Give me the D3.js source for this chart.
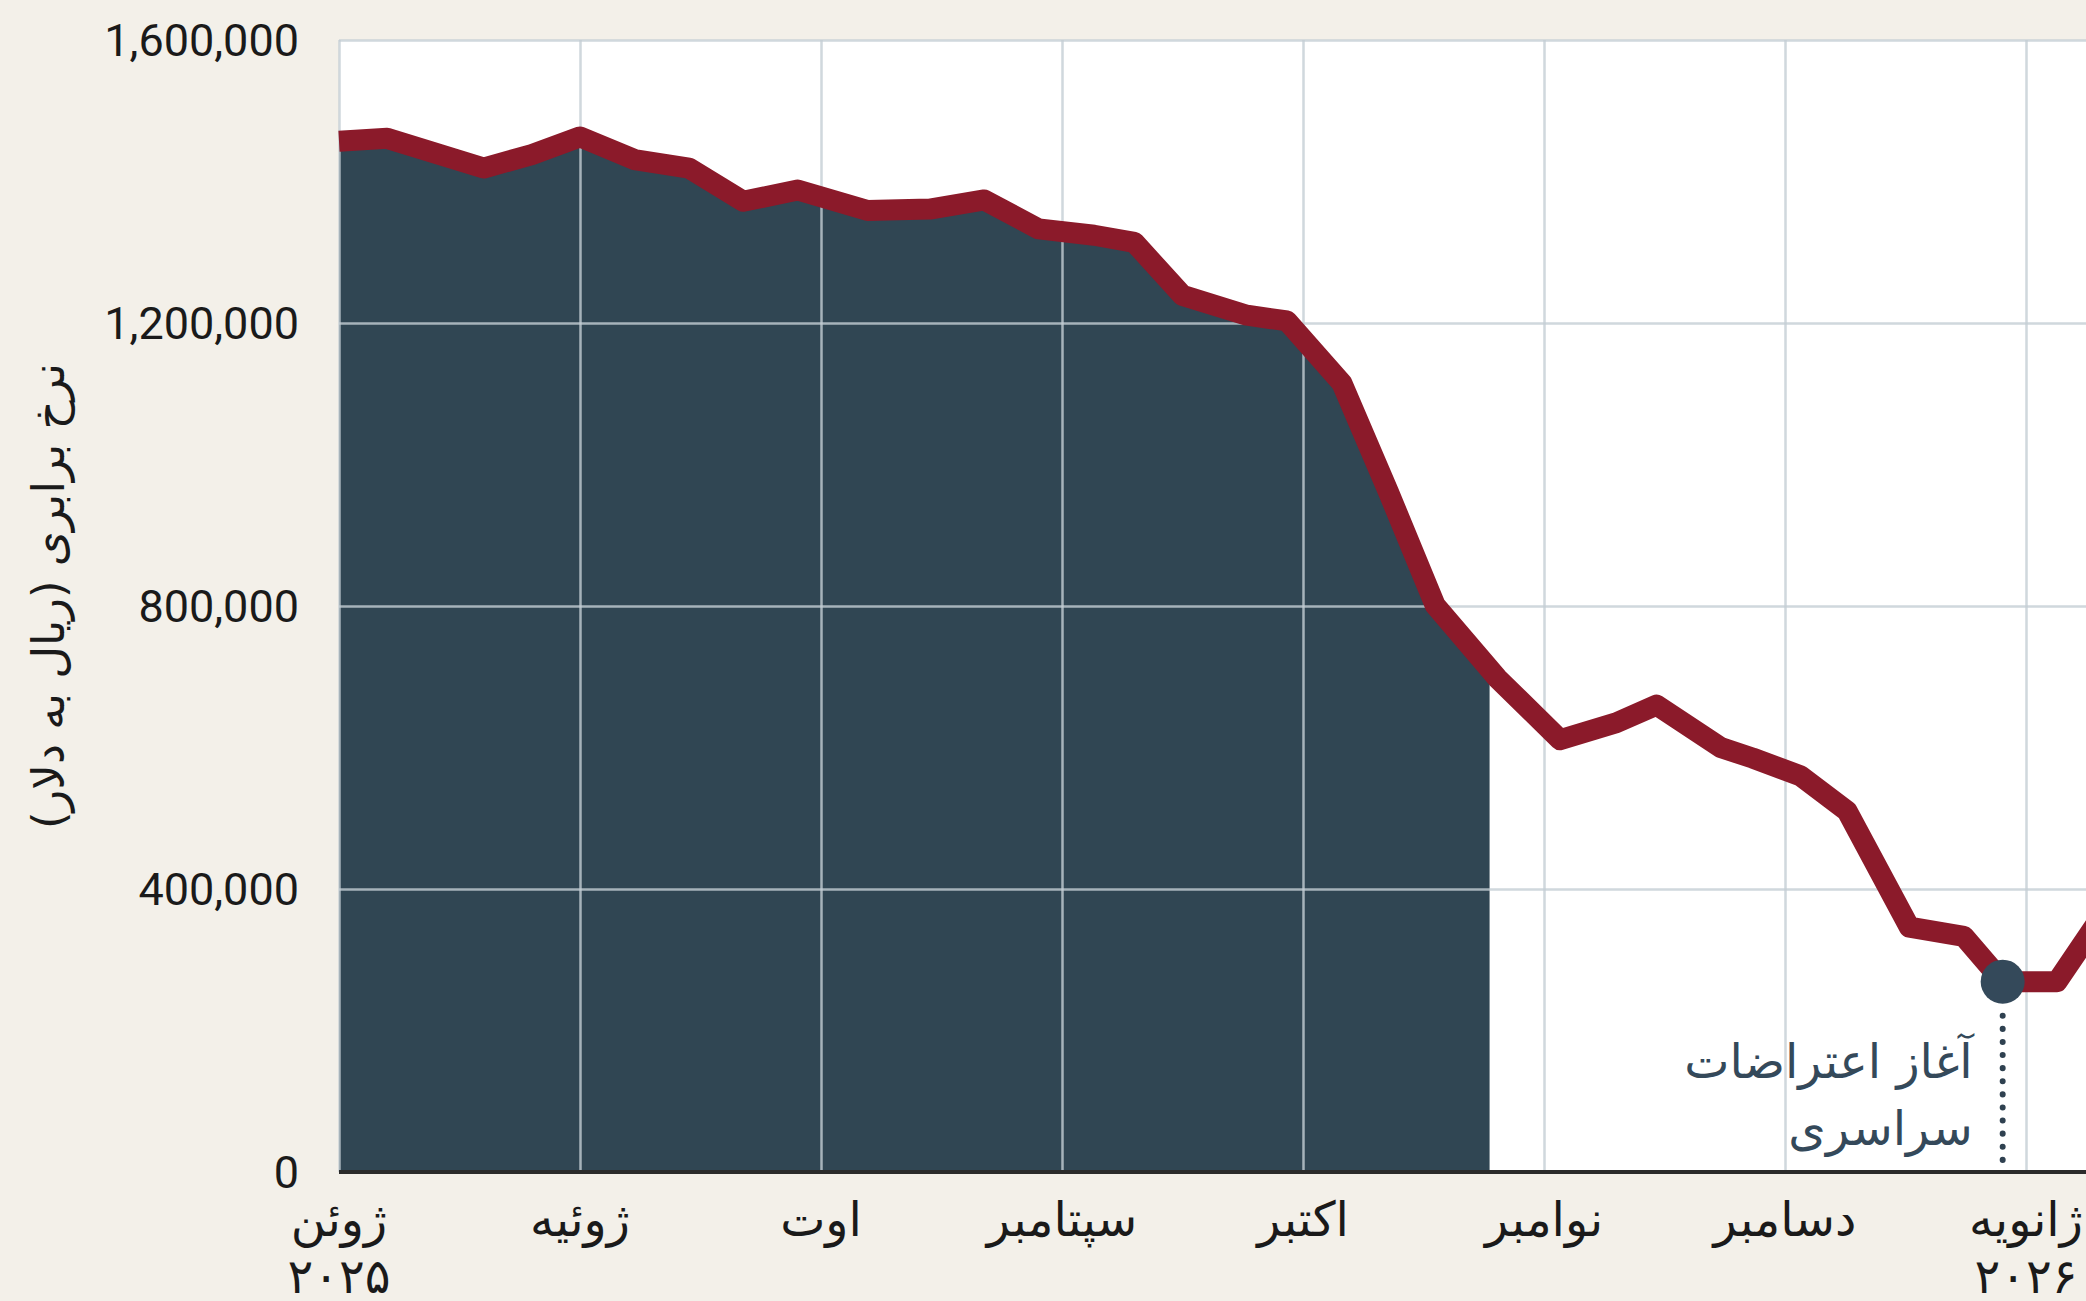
<!DOCTYPE html>
<html>
<head>
<meta charset="utf-8">
<script src="https://cdn.jsdelivr.net/npm/d3@7"></script>
<style>
  body { margin: 0; background: #f3f0e9; }
  svg { display: block; }
</style>
</head>
<body>
<script>
// month labels (first of each month) and the year line under some of them
var months = ["ژوئن", "ژوئیه", "اوت", "سپتامبر", "اکتبر", "نوامبر", "دسامبر", "ژانویه"];
var monthYears = ["۲۰۲۵", "", "", "", "", "", "", "۲۰۲۶"];
var monthStarts = ["2025-06-01", "2025-07-01", "2025-08-01", "2025-09-01", "2025-10-01", "2025-11-01", "2025-12-01", "2026-01-01"];
var yTicks = [0, 400000, 800000, 1200000, 1600000];

// weekly exchange rate readings (rial per dollar)
var dates = ["2025-06-01", "2025-06-07", "2025-06-19", "2025-06-25", "2025-07-01", "2025-07-08",
    "2025-07-15", "2025-07-22", "2025-07-29", "2025-08-07", "2025-08-15", "2025-08-22",
    "2025-08-29", "2025-09-05", "2025-09-10", "2025-09-16", "2025-09-24", "2025-09-29",
    "2025-10-06", "2025-10-12", "2025-10-18", "2025-10-26", "2025-11-03", "2025-11-10",
    "2025-11-15", "2025-11-23", "2025-11-27", "2025-12-03", "2025-12-09", "2025-12-17",
    "2025-12-24", "2025-12-29", "2026-01-05", "2026-01-10"];
var rates = [1457000, 1461000, 1419000, 1438000, 1463000, 1431000,
    1419000, 1372000, 1388000, 1359000, 1361000, 1374000,
    1333000, 1324000, 1314000, 1239000, 1211000, 1203000,
    1115000, 961000, 801000, 698000, 611000, 635000,
    660000, 600000, 585000, 560000, 510000, 346000,
    333000, 269000, 269000, 350000];

var fillEnd = "2025-10-25";
var protestDate = "2025-12-29";
var protestLabel = ["آغاز اعتراضات", "سراسری"];
var yTitle = "نرخ برابری (ریال به دلار)";

var W = 2086, H = 1301;
var plotL = 339, plotT = 40, plotB = 1172, monthW = 241;
var plotR = W + 60;

// months are drawn with equal widths, so position = month index + fraction of month
function monthIndex(s) {
    var p = s.split("-").map(Number);
    var dim = new Date(p[0], p[1], 0).getDate();
    return (p[0] - 2025) * 12 + (p[1] - 6) + (p[2] - 1) / dim;
}

var x = d3.scaleLinear().domain([0, 9]).range([plotL, plotL + 9 * monthW]);
var y = d3.scaleLinear().domain([0, 1600000]).range([plotB, plotT]);

var data = dates.map(function(d, i) {
    return { m: monthIndex(d), v: rates[i] };
});

var svg = d3.select("body").append("svg")
    .attr("width", W)
    .attr("height", H);

svg.append("defs").append("clipPath")
    .attr("id", "fillclip")
    .append("rect")
    .attr("x", plotL)
    .attr("y", 0)
    .attr("width", x(monthIndex(fillEnd)) - plotL)
    .attr("height", plotB);

// plot background
svg.append("rect")
    .attr("x", plotL)
    .attr("y", plotT)
    .attr("width", plotR - plotL)
    .attr("height", plotB - plotT)
    .attr("fill", "#ffffff");

// dark area up to the end of October
svg.append("path")
    .datum(data)
    .attr("clip-path", "url(#fillclip)")
    .attr("fill", "#304653")
    .attr("d", d3.area()
        .x(function(d) { return x(d.m); })
        .y0(y(0))
        .y1(function(d) { return y(d.v); }));

// grid
svg.append("g")
    .attr("transform", "translate(" + plotL + ",0)")
    .call(d3.axisLeft(y).tickValues(yTicks).tickSize(-(plotR - plotL)).tickFormat(""))
    .call(function(g) { g.select(".domain").remove(); })
    .selectAll("line")
    .attr("stroke", "rgba(196,206,212,0.8)")
    .attr("stroke-width", 2.5);

svg.append("g")
    .attr("transform", "translate(0," + plotT + ")")
    .call(d3.axisBottom(x).tickValues(monthStarts.map(monthIndex)).tickSize(plotB - plotT).tickFormat(""))
    .call(function(g) { g.select(".domain").remove(); })
    .selectAll("line")
    .attr("stroke", "rgba(196,206,212,0.8)")
    .attr("stroke-width", 2.5);

// rate line
svg.append("path")
    .datum(data)
    .attr("fill", "none")
    .attr("stroke", "#8b1a2a")
    .attr("stroke-width", 21)
    .attr("stroke-linejoin", "round")
    .attr("d", d3.line()
        .x(function(d) { return x(d.m); })
        .y(function(d) { return y(d.v); }));

// baseline
svg.append("line")
    .attr("x1", plotL)
    .attr("x2", W)
    .attr("y1", y(0))
    .attr("y2", y(0))
    .attr("stroke", "#2b2b2b")
    .attr("stroke-width", 4);

// protest marker
var pm = monthIndex(protestDate);
var pv = rates[dates.indexOf(protestDate)];
svg.append("line")
    .attr("x1", x(pm))
    .attr("x2", x(pm))
    .attr("y1", y(pv) + 34)
    .attr("y2", y(0) - 6)
    .attr("stroke", "#2f4150")
    .attr("stroke-width", 6)
    .attr("stroke-linecap", "round")
    .attr("stroke-dasharray", "0.1 13");

svg.append("circle")
    .attr("cx", x(pm))
    .attr("cy", y(pv))
    .attr("r", 22)
    .attr("fill", "#34495a");

svg.selectAll("text.note")
    .data(protestLabel)
    .enter()
    .append("text")
    .attr("class", "note")
    .attr("x", x(pm) - 30)
    .attr("y", function(d, i) { return 1078 + i * 67; })
    .attr("text-anchor", "end")
    .attr("fill", "#34495a")
    .attr("font-family", "DejaVu Sans")
    .attr("font-size", 48)
    .text(function(d) { return d; });

// y tick labels
svg.selectAll("text.ytick")
    .data(yTicks)
    .enter()
    .append("text")
    .attr("class", "ytick")
    .attr("x", 299)
    .attr("y", function(d) { return y(d); })
    .attr("dy", "0.36em")
    .attr("text-anchor", "end")
    .attr("fill", "#1a1a1a")
    .attr("font-family", "Roboto")
    .attr("font-size", 45)
    .text(function(d) { return d3.format(",")(d); });

// x month labels
svg.selectAll("text.month")
    .data(months)
    .enter()
    .append("text")
    .attr("class", "month")
    .attr("x", function(d, i) { return x(monthIndex(monthStarts[i])); })
    .attr("y", 1236)
    .attr("text-anchor", "middle")
    .attr("fill", "#1a1a1a")
    .attr("font-family", "DejaVu Sans")
    .attr("font-size", 48)
    .text(function(d) { return d; });

svg.selectAll("text.year")
    .data(monthYears)
    .enter()
    .append("text")
    .attr("class", "year")
    .attr("x", function(d, i) { return x(monthIndex(monthStarts[i])); })
    .attr("y", 1293)
    .attr("text-anchor", "middle")
    .attr("fill", "#1a1a1a")
    .attr("font-family", "DejaVu Sans")
    .attr("font-size", 48)
    .text(function(d) { return d; });

// y axis title
svg.append("text")
    .attr("transform", "translate(64,596) rotate(-90)")
    .attr("text-anchor", "middle")
    .attr("direction", "rtl")
    .attr("fill", "#1a1a1a")
    .attr("font-family", "DejaVu Sans")
    .attr("font-size", 45)
    .text(yTitle);
</script>
</body>
</html>
